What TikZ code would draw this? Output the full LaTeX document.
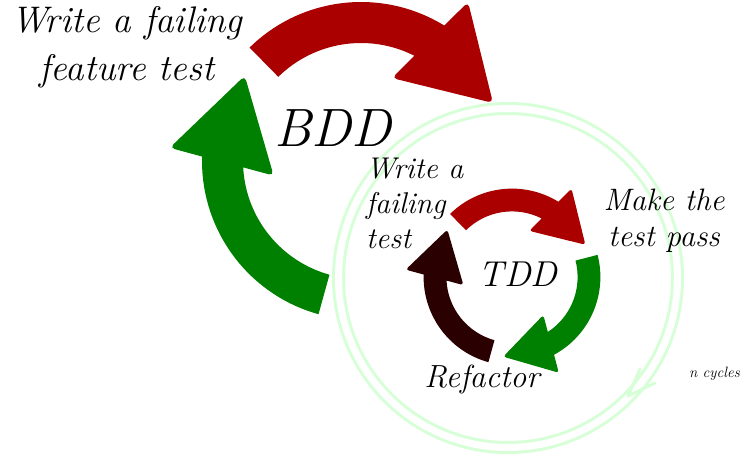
\documentclass[tikz,border=0pt]{standalone}
\usepackage{tikz}
\definecolor{cred}{RGB}{170,0,0}
\definecolor{cgreen}{RGB}{0,128,0}
\definecolor{cbrown}{RGB}{43,0,0}
\definecolor{cyclegreen}{RGB}{215,255,215}
% #1 centre, #2 radius scale, #3 rotation, #4 colour, #5 corner rounding
\newcommand{\cycarrow}[5]{%
  \begin{scope}[shift={#1},scale=#2,rotate=#3]
    \fill[#4] (134.5:1.148) arc[start angle=134.5,end angle=58.4,radius=1.148]
      [rounded corners=#5] -- (0.773,1.148) -- (0.953,0.419) -- (0.224,0.599)
      [sharp corners] -- (63.1:0.852)
      arc[start angle=63.1,end angle=134.5,radius=0.852] -- cycle;
  \end{scope}}
\tikzset{
  lbl/.style={inner sep=0pt, text=black},
  ring/.style={draw=cyclegreen, line width=3pt, double=white, double distance=7pt},
}
\begin{document}
\begin{tikzpicture}[x=1pt,y=1pt]
\useasboundingbox (0,0) rectangle (743,453);
% n cycles ring
\draw[ring] (508,175) circle[radius=169.5];
\coordinate (tipA) at (628,57);
\coordinate (barbA) at (640,84);
\coordinate (barbB) at (655,70);
\draw[cyclegreen, line width=3pt, line cap=round, line join=round] (barbA) -- (tipA) -- (barbB);
% BDD cycle
\cycarrow{(361,292)}{138.5}{0}{cred}{5pt}
\cycarrow{(361,292)}{138.5}{120}{cgreen}{5pt}
% TDD cycle
\cycarrow{(512,176)}{77}{0}{cred}{3pt}
\cycarrow{(512,176)}{77}{-120}{cgreen}{3pt}
\cycarrow{(512,176)}{77}{120}{cbrown}{3pt}
% labels
\node[lbl, font=\fontsize{37}{48}\selectfont\itshape, align=center] (feat) at (127,406) {Write a failing\\feature test};
\node[lbl, font=\fontsize{54}{60}\selectfont\itshape] (bdd) at (333,325) {BDD};
\node[lbl, font=\fontsize{30}{35}\selectfont\itshape, align=left, anchor=west] (wft) at (366,250) {Write a\\failing\\test};
\node[lbl, font=\fontsize{31}{36}\selectfont\itshape, align=center] (mtp) at (664,232) {Make the\\test pass};
\node[lbl, font=\fontsize{36}{40}\selectfont\itshape] (tdd) at (518,179) {TDD};
\node[lbl, font=\fontsize{32}{36}\selectfont\itshape] (ref) at (482,74) {Refactor};
\node[lbl, font=\fontsize{15}{18}\selectfont\itshape, anchor=base west] (ncy) at (689,76) {n cycles};
\end{tikzpicture}
\end{document}
